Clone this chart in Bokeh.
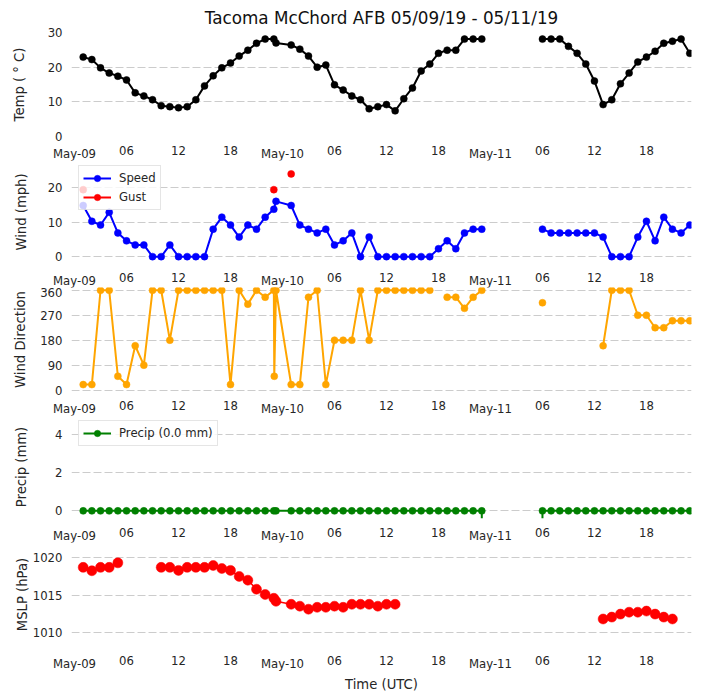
from bokeh.plotting import figure
from bokeh.layouts import column
from bokeh.models import LinearAxis, FixedTicker, Range1d
from bokeh.embed import file_html
from bokeh.resources import INLINE

nan = float("nan")

# hours since May-09 00 UTC
hours = [1,2,3,4,5,6,7,8,9,10,11,12,13,14,15,16,17,18,19,20,21,22,23,23.25,
         25,26,27,28,29,30,31,32,33,34,35,36,37,38,39,40,41,42,43,44,45,46,47,
         48,54,55,56,57,58,59,60,61,62,63,64,65,66,67,68,69,70,71]
temp = [22.9,22.2,19.8,18.3,17.4,16.3,12.6,11.7,10.6,8.9,8.6,8.3,8.6,10.6,14.6,17.5,19.8,21.2,23.2,24.9,26.9,28.1,28.1,27.0,
        26.4,25.2,23.2,20.0,20.6,14.9,13.4,11.7,10.6,8.0,8.6,9.2,7.4,10.9,14.0,18.9,20.9,24.0,24.9,24.9,28.1,28.1,28.1,
        nan,28.1,28.1,28.1,26.0,24.0,20.9,16.0,9.2,10.6,15.2,18.3,21.5,22.9,24.6,26.9,27.5,28.1,24.0]
speed = [14.9,10.3,9.2,12.9,6.9,4.6,3.4,3.4,0,0,3.4,0,0,0,0,8.0,11.5,9.2,5.7,9.2,8.0,11.5,13.8,16.1,
         14.9,9.2,8.0,6.9,8.0,3.4,4.6,6.9,0,5.7,0,0,0,0,0,0,0,2.3,4.6,2.3,6.9,8.0,8.0,
         nan,8.0,6.9,6.9,6.9,6.9,6.9,6.9,5.7,0,0,0,5.7,10.3,4.6,11.5,8.0,6.9,9.2]
gust_hours = [1,2,23,24,25,26]
gust = [19.5,nan,19.5,nan,24.1,nan]
dir_hours = [1,2,3,4,5,6,7,8,9,10,11,12,13,14,15,16,17,18,19,20,21,22,23,23.05,23.25,
             25,26,27,28,29,30,31,32,33,34,35,36,37,38,39,40,41,42,43,44,45,46,47,
             48,54,55,61,62,63,64,65,66,67,68,69,70,71]
direction = [20,20,360,360,50,20,160,90,360,360,180,360,360,360,360,360,360,20,360,310,360,335,360,50,360,
             20,20,335,360,20,180,180,180,360,180,360,360,360,360,360,360,360,nan,335,335,295,335,360,
             nan,315,nan,160,360,360,360,270,270,225,225,250,250,250]
precip = [nan if h == 48 else 0.0 for h in hours]
precip_stems = [47,54]
mslp_hours = [1,2,3,4,5,6,10,11,12,13,14,15,16,17,18,19,20,21,22,23,23.25,
              25,26,27,28,29,30,31,32,33,34,35,36,37,38,61,62,63,64,65,66,67,68,69]
mslp = [1018.7,1018.25,1018.7,1018.7,1019.3,nan,1018.7,1018.7,1018.3,1018.7,1018.7,1018.7,1018.95,1018.55,1018.3,1017.5,1017.0,1015.8,1015.1,1014.6,1014.2,
        1013.8,1013.55,1013.15,1013.4,1013.4,1013.55,1013.4,1013.8,1013.8,1013.8,1013.55,1013.8,1013.8,nan,1011.85,1012.1,1012.5,1012.75,1012.75,1012.9,1012.5,1012.1,1011.85]

minor_ticks = [6,12,18,30,36,42,54,60,66]
minor_labels = ["06","12","18","06","12","18","06","12","18"]
day_ticks = [0,24,48]
day_labels = ["May-09","May-10","May-11"]
X_RANGE = (-0.35, 71.2)
FONT = "DejaVu Sans"
TICK = "11.7px"
LAB = "13.2px"
GRID = "#cccccc"
INK = "#262626"


def panel(ylabel, yr, yticks, grid_ticks, height, top, lab_standoff, bottom=26, overlap=3, title=None):
    p = figure(width=696, height=height, output_backend="svg", toolbar_location=None,
               x_range=Range1d(*X_RANGE), y_range=Range1d(*yr), x_axis_type=None,
               min_border_left=71, min_border_right=5, min_border_top=top, min_border_bottom=bottom,
               margin=(0, 0, -overlap, 0))
    p.outline_line_color = None
    p.xgrid.visible = False
    p.ygrid.ticker = FixedTicker(ticks=grid_ticks)
    p.ygrid.grid_line_color = GRID
    p.ygrid.grid_line_dash = "8 3"
    p.ygrid.grid_line_width = 1.1
    ya = p.yaxis[0]
    ya.ticker = FixedTicker(ticks=yticks)
    ya.axis_line_color = None
    ya.major_tick_line_color = None
    ya.minor_tick_line_color = None
    ya.major_tick_out = 0
    ya.major_tick_in = 0
    ya.minor_tick_out = 0
    ya.minor_tick_in = 0
    ya.major_label_text_font = FONT
    ya.major_label_text_font_size = TICK
    ya.major_label_text_color = INK
    ya.major_label_standoff = 9
    ya.axis_label = ylabel
    ya.axis_label_text_font = FONT
    ya.axis_label_text_font_size = LAB
    ya.axis_label_text_font_style = "normal"
    ya.axis_label_text_color = INK
    ya.axis_label_standoff = lab_standoff
    for ticks, labels, standoff in ((minor_ticks, minor_labels, 9), (day_ticks, day_labels, -11)):
        xa = LinearAxis(ticker=FixedTicker(ticks=ticks),
                        major_label_overrides=dict(zip(ticks, labels)))
        xa.axis_line_color = None
        xa.major_tick_line_color = None
        xa.minor_tick_line_color = None
        xa.major_tick_out = 0
        xa.major_tick_in = 0
        xa.minor_tick_out = 0
        xa.minor_tick_in = 0
        xa.major_label_text_font = FONT
        xa.major_label_text_font_size = TICK
        xa.major_label_text_color = INK
        xa.major_label_standoff = standoff
        p.add_layout(xa, "below")
    if title:
        p.title.text = title
        p.title.text_font = FONT
        p.title.text_font_size = "16.8px"
        p.title.text_font_style = "normal"
        p.title.text_color = "#111111"
        p.title.align = "center"
    return p


def series(p, x, y, color, size=7, width=2, alpha=1.0, label=None):
    kw = {"legend_label": label} if label else {}
    p.line(x, y, line_color=color, line_width=width, line_alpha=alpha, **kw)
    p.scatter(x, y, size=size, fill_color=color, line_color=color, line_width=0.5, alpha=alpha, **kw)


p1 = panel("Temp ( ° C)", (0, 30), [0, 10, 20, 30], [10, 20, 30], 163, 25, 18,
           title="Tacoma McChord AFB 05/09/19 - 05/11/19")
series(p1, hours, temp, "black")

p2 = panel("Wind (mph)", (-2, 28), [0, 10, 20], [0, 10, 20], 130, 0, 16)
series(p2, hours, speed, "blue", label="Speed")
series(p2, gust_hours, gust, "red", label="Gust")

p3 = panel("Wind Direction", (-5, 370), [0, 90, 180, 270, 360], [0, 90, 180, 270, 360], 131, 0, 9)
series(p3, dir_hours, direction, "orange")

p4 = panel("Precip (mm)", (-0.4, 5), [0, 2, 4], [0, 2, 4], 130, 0, 23)
series(p4, hours, precip, "green", label="Precip (0.0 mm)")
p4.segment(precip_stems, [0, 0], precip_stems, [-0.4, -0.4], line_color="green", line_width=2)

p5 = panel("MSLP (hPa)", (1008.2, 1022), [1010, 1015, 1020], [1010, 1015, 1020], 152, 0, 0, bottom=47, overlap=0)
series(p5, mslp_hours, mslp, "red", size=10, width=1.5)
xa5 = p5.below[1]
xa5.axis_label = "Time (UTC)"
xa5.axis_label_text_font = FONT
xa5.axis_label_text_font_size = LAB
xa5.axis_label_text_font_style = "normal"
xa5.axis_label_text_color = INK
xa5.axis_label_standoff = 3

for p, loc in ((p2, (7, 53)), (p4, (7, 72))):
    lg = p.legend[0]
    lg.location = loc
    lg.margin = 0
    lg.padding = 4
    lg.spacing = 3
    lg.label_standoff = 8
    lg.label_text_font = FONT
    lg.label_text_font_size = TICK
    lg.label_text_color = INK
    lg.background_fill_alpha = 0.8
    lg.border_line_color = "#cccccc"
    lg.glyph_width = 28
    lg.glyph_height = 16
    lg.label_height = 16

page = column(p1, p2, p3, p4, p5, spacing=0)
open("out.html", "w").write(file_html(page, INLINE))
